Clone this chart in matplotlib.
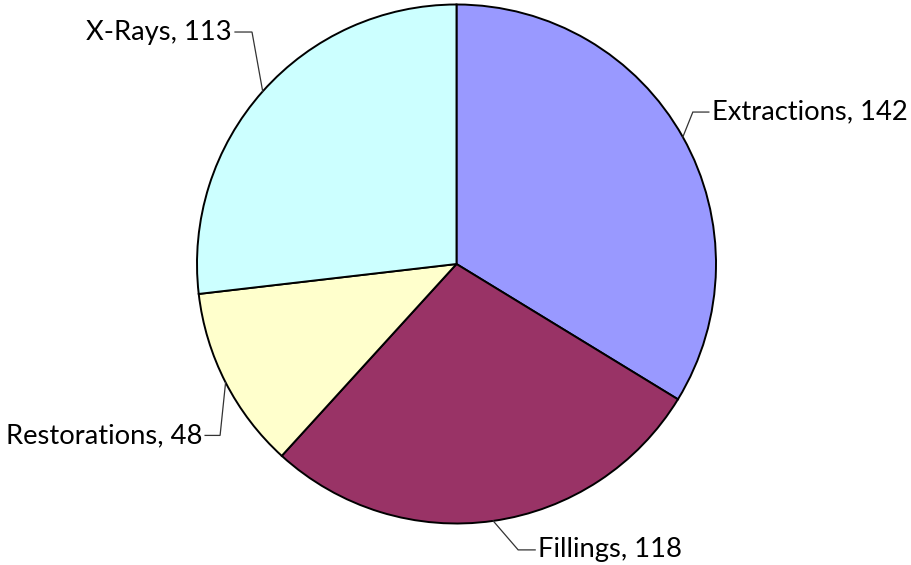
import numpy as np
import matplotlib
matplotlib.use("Agg")
import matplotlib.pyplot as plt

categories = ["Extractions", "Fillings", "Restorations", "X-Rays"]
values = [142, 118, 48, 113]
colors = ["#9999FF", "#993366", "#FFFFCC", "#CCFFFF"]

# leader layout: (elbow dx, elbow dy, end dx) in pixels relative to wedge edge midpoint (y up)
leaders = [(10, 25, 26), (25, -29, 42), (-5.5, -53, -20.5), (-10.7, 59.4, -27.7)]

W, H = 912, 565
R = 259.5
cx, cy = 456.5, 264.0

fig = plt.figure(figsize=(W / 100, H / 100), dpi=100)
ax = fig.add_axes([0, 0, 1, 1])

wedges, _ = ax.pie(values, colors=colors, startangle=90, counterclock=False, radius=1,
                   wedgeprops=dict(edgecolor="black", linewidth=1.4))
ax.set_xlim(-cx / R, (W - cx) / R)
ax.set_ylim(-(H - cy) / R, cy / R)
ax.set_aspect("auto")
ax.axis("off")

for w, cat, val, (ex, ey, tx) in zip(wedges, categories, values, leaders):
    ang = np.deg2rad((w.theta1 + w.theta2) / 2)
    x0, y0 = np.cos(ang), np.sin(ang)
    x1, y1 = x0 + ex / R, y0 + ey / R
    x2 = x0 + tx / R
    ax.plot([x0, x1, x2], [y0, y1, y1], color="#333333", lw=0.9, solid_joinstyle="miter")
    ha = "left" if tx > 0 else "right"
    xt = x2 + (3 / R if tx > 0 else -3 / R)
    ax.text(xt, y1, f"{cat}, {val}", ha=ha, va="center", fontsize=19.7,
            family=["Lato", "DejaVu Sans"], color="black")

fig.savefig("out.png", dpi=100)
